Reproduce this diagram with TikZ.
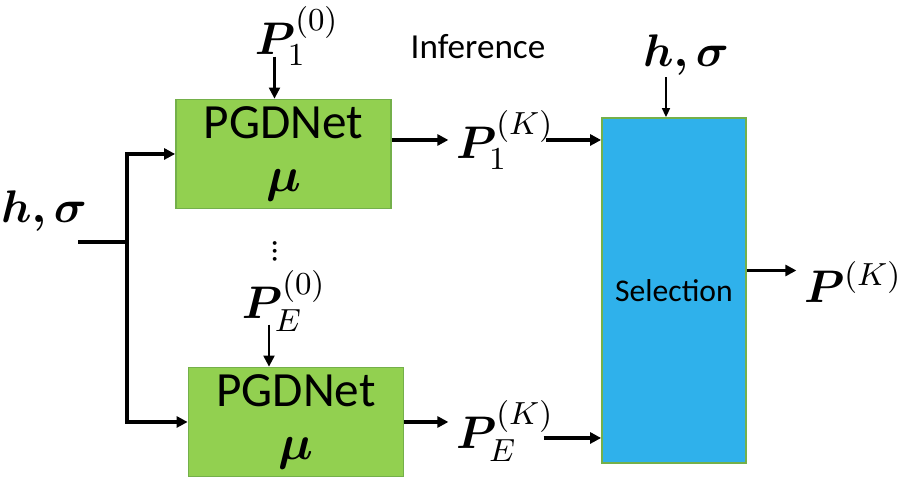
\documentclass[tikz,border=0pt]{standalone}
\usepackage{fix-cm}
\usepackage{amsmath,bm}
\usepackage{fontspec}
\setmainfont{Carlito}
\usetikzlibrary{arrows.meta,positioning,calc}

\definecolor{netgreen}{HTML}{92D050}
\definecolor{netedge}{HTML}{74B04A}
\definecolor{selblue}{HTML}{2FB1EB}

\begin{document}
\begin{tikzpicture}[
  >={Triangle[length=1.1mm,width=1.1mm]},
  net/.style={rectangle,draw=netedge,fill=netgreen,line width=0.5pt,
    minimum width=2.15cm,minimum height=1.09cm,align=center,inner sep=0pt,
    font=\fontsize{14}{15}\selectfont},
  selbox/.style={rectangle,draw=netedge,fill=selblue,line width=0.5pt,
    minimum width=1.44cm,minimum height=3.45cm,inner sep=0pt,
    font=\fontsize{9}{11}\selectfont},
  sym/.style={font=\fontsize{13}{15}\selectfont,inner sep=2pt},
  arr/.style={->,line width=0.9pt},
  feed/.style={->,line width=0.6pt},
  feedthin/.style={->,line width=0.45pt,>={Triangle[length=0.9mm,width=0.8mm]}}
]
\useasboundingbox (0,0) rectangle (9,4.8);

% Blocks
\node[net] (pgd1) at (2.835,3.26) {PGDNet\\$\bm{\mu}$};
\node[net] (pgd2) at (2.96,0.58) {PGDNet\\$\bm{\mu}$};
\node[selbox] (sel) at (6.74,1.895) {Selection};

% Labels
\node[sym] (hsl) at (0.44,2.69) {$\bm{h,\sigma}$};
\node[sym] (hst) at (6.86,4.25) {$\bm{h,\sigma}$};
\node[sym] (p10) at (2.97,4.44) {$\bm{P}_1^{(0)}$};
\node[sym] (pe0) at (2.84,1.79) {$\bm{P}_E^{(0)}$};
\node[sym] (p1k) at (5.05,3.40) {$\bm{P}_1^{(K)}$};
\node[sym] (pek) at (5.05,0.49) {$\bm{P}_E^{(K)}$};
\node[sym] (pk) at (8.53,1.98) {$\bm{P}^{(K)}$};
\node[font=\fontsize{10}{12}\selectfont] (inf) at (4.78,4.33) {Inference};
\node[font=\fontsize{9}{11}\selectfont,rotate=-90,inner sep=0pt] (dots) at (2.75,2.29) {\char"2026};

% Inputs
\coordinate (hsin) at (0.78,2.38);
\coordinate (split) at (1.27,2.38);
\draw[line width=0.9pt] (hsin) -- (split);
\draw[arr] (split) |- (pgd1.west);
\draw[arr] (split) |- (pgd2.west);
\draw[feed] ([xshift=-0.09cm,yshift=0.42cm]pgd1.north) -- ([xshift=-0.09cm]pgd1.north);
\draw[feed] ([xshift=-0.27cm,yshift=0.42cm]pgd2.north) -- ([xshift=-0.27cm]pgd2.north);
\draw[feedthin] ([xshift=-0.08cm,yshift=0.40cm]sel.north) -- ([xshift=-0.08cm]sel.north);

% Outputs
\draw[arr] (pgd1.east |- p1k.west) -- (p1k.west);
\draw[arr] ([xshift=-0.16cm]p1k.east) -- (p1k.east -| sel.west);
\draw[arr] (pgd2.east) -- (pgd2.east -| pek.west);
\draw[arr] ([xshift=-0.18cm,yshift=-0.07cm]pek.east) -- ([yshift=-0.07cm]pek.east -| sel.west);
\draw[arr] ([yshift=0.2cm]sel.east) -- ([yshift=0.2cm]sel.east -| pk.west);

\end{tikzpicture}
\end{document}
